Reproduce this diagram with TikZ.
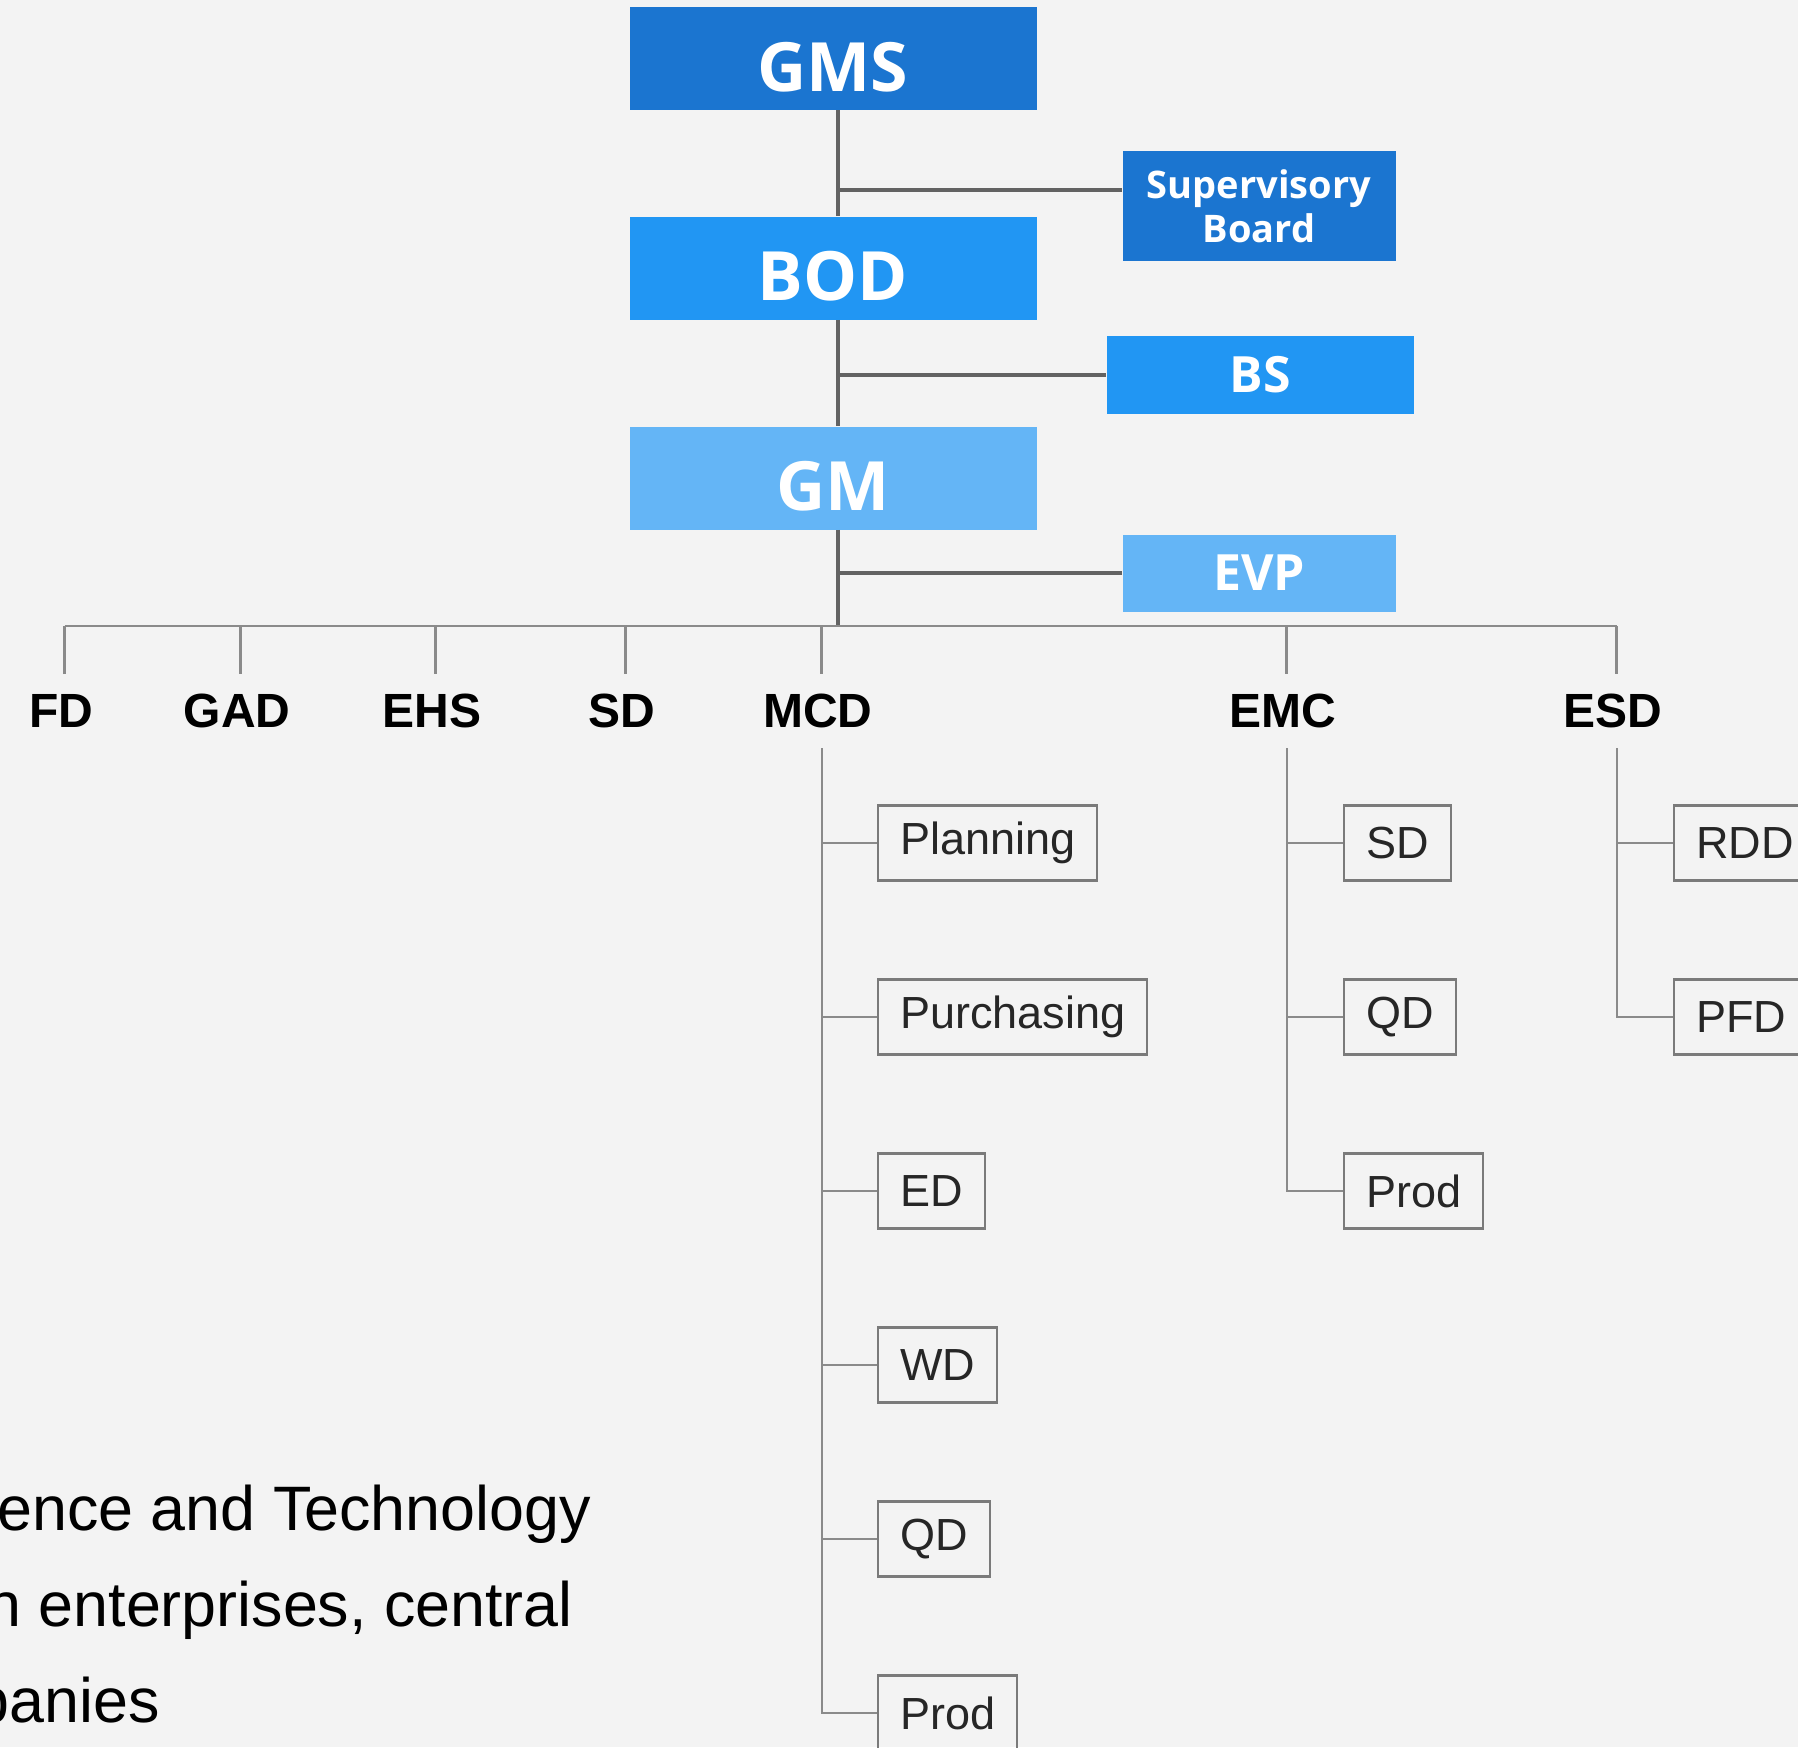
\documentclass[tikz,border=0pt]{standalone}
\usepackage{fontspec}
\setmainfont{Liberation Sans}
\newfontfamily\headfont{Open Sans}
\usetikzlibrary{positioning}

\definecolor{darkblue}{HTML}{1B75D0}
\definecolor{midblue}{HTML}{2196F3}
\definecolor{lightblue}{HTML}{64B5F6}
\definecolor{trunkgray}{HTML}{626262}
\definecolor{linegray}{HTML}{8A8A8A}
\definecolor{boxgray}{HTML}{7A7A7A}
\definecolor{bggray}{HTML}{F3F3F3}

\tikzset{
  head/.style={rectangle,text=white,inner sep=0pt,minimum width=203.5pt,minimum height=51.5pt,
    text height=33.3pt,font=\headfont\bfseries\fontsize{34}{40}\selectfont},
  side/.style={rectangle,text=white,inner sep=0pt,align=center,
    font=\headfont\bfseries\fontsize{25}{30}\selectfont},
  dept/.style={inner xsep=2pt,inner ysep=10pt,font=\bfseries\fontsize{24}{28}\selectfont},
  sub/.style={draw=boxgray,line width=1.1pt,inner xsep=11pt,inner ysep=0pt,minimum height=37.5pt,
    anchor=west,text=black!85,font=\fontsize{22.5}{26}\selectfont},
  trunk/.style={draw=trunkgray,line width=1.75pt},
  bus/.style={draw=linegray,line width=1.2pt},
  twig/.style={draw=linegray,line width=1pt},
  blurb/.style={anchor=base west,inner sep=0pt,font=\fontsize{31.4}{36}\selectfont}
}

\begin{document}
\begin{tikzpicture}[x=1pt,y=-1pt,on grid]
\clip (0,0) rectangle (899,873.5);
\fill[bggray] (0,0) rectangle (899,873.5);

% top of the chart
\node[head,fill=darkblue] (gms) at (416.5,29.25) {GMS};
\node[head,fill=midblue] (bod) [below=104.75pt of gms] {BOD};
\node[head,fill=lightblue] (gm) [below=105pt of bod] {GM};
\node[side,fill=darkblue,minimum width=136.5pt,minimum height=55pt,
  font=\headfont\bfseries\fontsize{19}{22}\selectfont] (sup) [below right=73.75pt and 213pt of gms] {Supervisory\\Board};
\node[side,fill=midblue,minimum width=153.5pt,minimum height=39pt] (bs) [below right=53.5pt and 213.5pt of bod] {BS};
\node[side,fill=lightblue,minimum width=136.5pt,minimum height=38.5pt] (evp) [below right=47.5pt and 213pt of gm] {EVP};
\node[coordinate,below right=74pt and 2.5pt of gm] (bus) {};

\draw[trunk] ([xshift=2.5pt]gms.south) -- ([xshift=2.5pt]bod.north);
\draw[trunk] ([xshift=2.5pt]bod.south) -- ([xshift=2.5pt]gm.north);
\draw[trunk] ([xshift=2.5pt]gm.south) -- (bus);
\draw[trunk] ([yshift=8pt]sup.west) -- ([yshift=8pt]sup.west -| bus);
\draw[trunk] (bs) -- (bs -| bus);
\draw[trunk] (evp) -- (evp -| bus);

% departments
\node[dept] (fd) at (30.5,355.5) {FD};
\node[dept] (gad) [right=88pt of fd] {GAD};
\node[dept] (ehs) [right=97.5pt of gad] {EHS};
\node[dept] (sd) [right=95pt of ehs] {SD};
\node[dept] (mcd) [right=98pt of sd] {MCD};
\node[dept] (emc) [right=232.5pt of mcd] {EMC};
\node[dept] (esd) [right=165pt of emc] {ESD};

\draw[bus] ([xshift=1.75pt]fd.north |- bus) -- ([xshift=1.75pt]esd.north |- bus);
\draw[bus] ([xshift=1.75pt]fd.north) -- ([xshift=1.75pt]fd.north |- bus);
\draw[bus] ([xshift=1.75pt]gad.north) -- ([xshift=1.75pt]gad.north |- bus);
\draw[bus] ([xshift=1.75pt]ehs.north) -- ([xshift=1.75pt]ehs.north |- bus);
\draw[bus] ([xshift=1.75pt]sd.north) -- ([xshift=1.75pt]sd.north |- bus);
\draw[bus] ([xshift=1.75pt]mcd.north) -- ([xshift=1.75pt]mcd.north |- bus);
\draw[bus] ([xshift=1.75pt]emc.north) -- ([xshift=1.75pt]emc.north |- bus);
\draw[bus] ([xshift=1.75pt]esd.north) -- ([xshift=1.75pt]esd.north |- bus);

% MCD
\node[sub] (plan) at (438.5,421.5) {Planning};
\node[sub] (purch) [below=87pt of plan.west,anchor=west] {Purchasing};
\node[sub] (ed) [below=87pt of purch.west,anchor=west] {ED};
\node[sub] (wd) [below=87pt of ed.west,anchor=west] {WD};
\node[sub] (qdm) [below=87pt of wd.west,anchor=west] {QD};
\node[sub] (prodm) [below=87pt of qdm.west,anchor=west] {Prod};
\coordinate (mcdtop) at ([xshift=1.75pt]mcd.south);
\draw[twig] (mcdtop) -- (mcdtop |- prodm.west) -- (prodm.west);
\draw[twig] (plan.west) -- (plan.west -| mcdtop);
\draw[twig] (purch.west) -- (purch.west -| mcdtop);
\draw[twig] (ed.west) -- (ed.west -| mcdtop);
\draw[twig] (wd.west) -- (wd.west -| mcdtop);
\draw[twig] (qdm.west) -- (qdm.west -| mcdtop);

% EMC
\node[sub] (sde) at (671.5,421.5) {SD};
\node[sub] (qde) [below=87pt of sde.west,anchor=west] {QD};
\node[sub] (prode) [below=87pt of qde.west,anchor=west] {Prod};
\coordinate (emctop) at ([xshift=1.75pt]emc.south);
\draw[twig] (emctop) -- (emctop |- prode.west) -- (prode.west);
\draw[twig] (sde.west) -- (sde.west -| emctop);
\draw[twig] (qde.west) -- (qde.west -| emctop);

% ESD
\node[sub] (rdd) at (836.5,421.5) {RDD};
\node[sub] (pfd) [below=87pt of rdd.west,anchor=west] {PFD};
\coordinate (esdtop) at ([xshift=1.75pt]esd.south);
\draw[twig] (esdtop) -- (esdtop |- pfd.west) -- (pfd.west);
\draw[twig] (rdd.west) -- (rdd.west -| esdtop);

% text at the bottom left
\node[blurb] (lineone) at (-1.5,765) {ence and Technology};
\node[blurb] (linetwo) at (-7,813) {n enterprises, central};
\node[blurb] (linethree) at (-13,861) {panies};
\end{tikzpicture}
\end{document}
